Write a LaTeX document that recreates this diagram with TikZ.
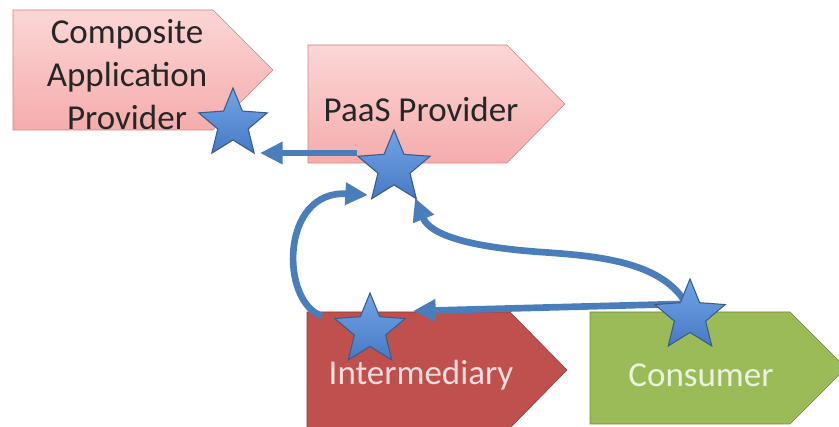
\documentclass[tikz,border=0pt]{standalone}
\usepackage{fontspec}
\setmainfont{Carlito}
\usetikzlibrary{shapes.geometric,arrows.meta,calc}

\pgfdeclarelayer{back}
\pgfdeclarelayer{mid}
\pgfsetlayers{back,mid,main}

\definecolor{pinktop}{RGB}{252,214,214}
\definecolor{pinkbot}{RGB}{245,172,172}
\definecolor{pinkline}{RGB}{214,128,128}
\definecolor{redfill}{RGB}{192,80,77}
\definecolor{redline}{RGB}{140,56,54}
\definecolor{redtext}{RGB}{244,222,221}
\definecolor{greenfill}{RGB}{155,187,89}
\definecolor{greenline}{RGB}{113,137,63}
\definecolor{greentext}{RGB}{236,242,222}
\definecolor{flowblue}{RGB}{74,126,187}
\definecolor{startop}{RGB}{114,164,232}
\definecolor{starbot}{RGB}{72,122,196}
\definecolor{starline}{RGB}{56,93,138}

\tikzset{every picture/.style={line width=0.75pt},
  bluestar/.style={star, star points=5, star point ratio=2.25, inner sep=0pt,
    draw=starline, line width=0.8pt, top color=startop, bottom color=starbot},
  flow/.style={draw=flowblue, line width=5pt, -{Triangle[length=17pt,width=16pt]}},
  boxtext/.style={inner sep=0.75pt, font=\fontsize{26.25}{32.25}\selectfont}
}

\begin{document}
\begin{tikzpicture}[x=0.75pt,y=0.75pt,yscale=-1,xscale=1]
\useasboundingbox (0,0) rectangle (839,427);
\clip (0,0) rectangle (839,427);

\begin{pgfonlayer}{back}
%Shape: Pentagon Arrow [id:comp]
\draw  [draw=pinkline, top color=pinktop, bottom color=pinkbot]  (13,10) -- (213,10) -- (273,70) -- (213,130) -- (13,130) -- cycle ;
%Shape: Pentagon Arrow [id:paas]
\draw  [draw=pinkline, top color=pinktop, bottom color=pinkbot]  (308,45) -- (507,45) -- (565,104) -- (507,163) -- (308,163) -- cycle ;
%Shape: Pentagon Arrow [id:inter]
\draw  [draw=redline, fill=redfill]  (307,312) -- (510,312) -- (567,370) -- (510,428) -- (307,428) -- cycle ;
%Shape: Pentagon Arrow [id:cons]
\draw  [draw=greenline, fill=greenfill]  (590,312) -- (790,312) -- (846,368) -- (790,424) -- (590,424) -- cycle ;
\end{pgfonlayer}

% Text Node
\draw (127,75) node [boxtext, align=center, color=black!85] (comp text) {Composite\\Application\\Provider};
% Text Node
\draw (421,122) node [boxtext, anchor=base, color=black!85] (paas text) {PaaS Provider};
% Text Node
\draw (421,385) node [boxtext, anchor=base, color=redtext] (inter text) {Intermediary};
% Text Node
\draw (701,387) node [boxtext, anchor=base, color=greentext] (cons text) {Consumer};

%Shape: Star
\node [bluestar, minimum size=54pt] (comp star) at (233,124) {};
%Shape: Star
\node [bluestar, minimum size=57pt] (paas star) at (394,168) {};
%Shape: Star
\node [bluestar, minimum size=55.5pt] (inter star) at (370,330) {};
%Shape: Star
\node [bluestar, minimum size=55.5pt] (cons star) at (690,316) {};

\begin{pgfonlayer}{mid}
%Straight Lines [id:paas-comp]
\draw  [flow]  ($(paas star)+(-37,-15)$) -- ($(comp star)+(27,29)$) ;
%Curve Lines [id:inter-paas]
\draw  [flow]  ($(inter star)+(-48,-14)$) .. controls ($(inter star)+(-90,-28)$) and ($(paas star)+(-114,22)$) .. ($(paas star)+(-26,27)$) ;
%Curve Lines [id:cons-paas]
\draw  [flow]  ($(cons star)+(-2,-9)$) .. controls ($(cons star)+(-25,-54)$) and ($(cons star)+(-90,-60)$) .. ($(cons star)+(-150,-64)$) .. controls ($(cons star)+(-220,-69)$) and ($(paas star)+(36,67)$) .. ($(paas star)+(21,30)$) ;
%Straight Lines [id:cons-inter]
\draw  [flow]  ($(cons star)+(-10,-12)$) -- ($(inter star)+(43,-19)$) ;
\end{pgfonlayer}

\end{tikzpicture}
\end{document}
